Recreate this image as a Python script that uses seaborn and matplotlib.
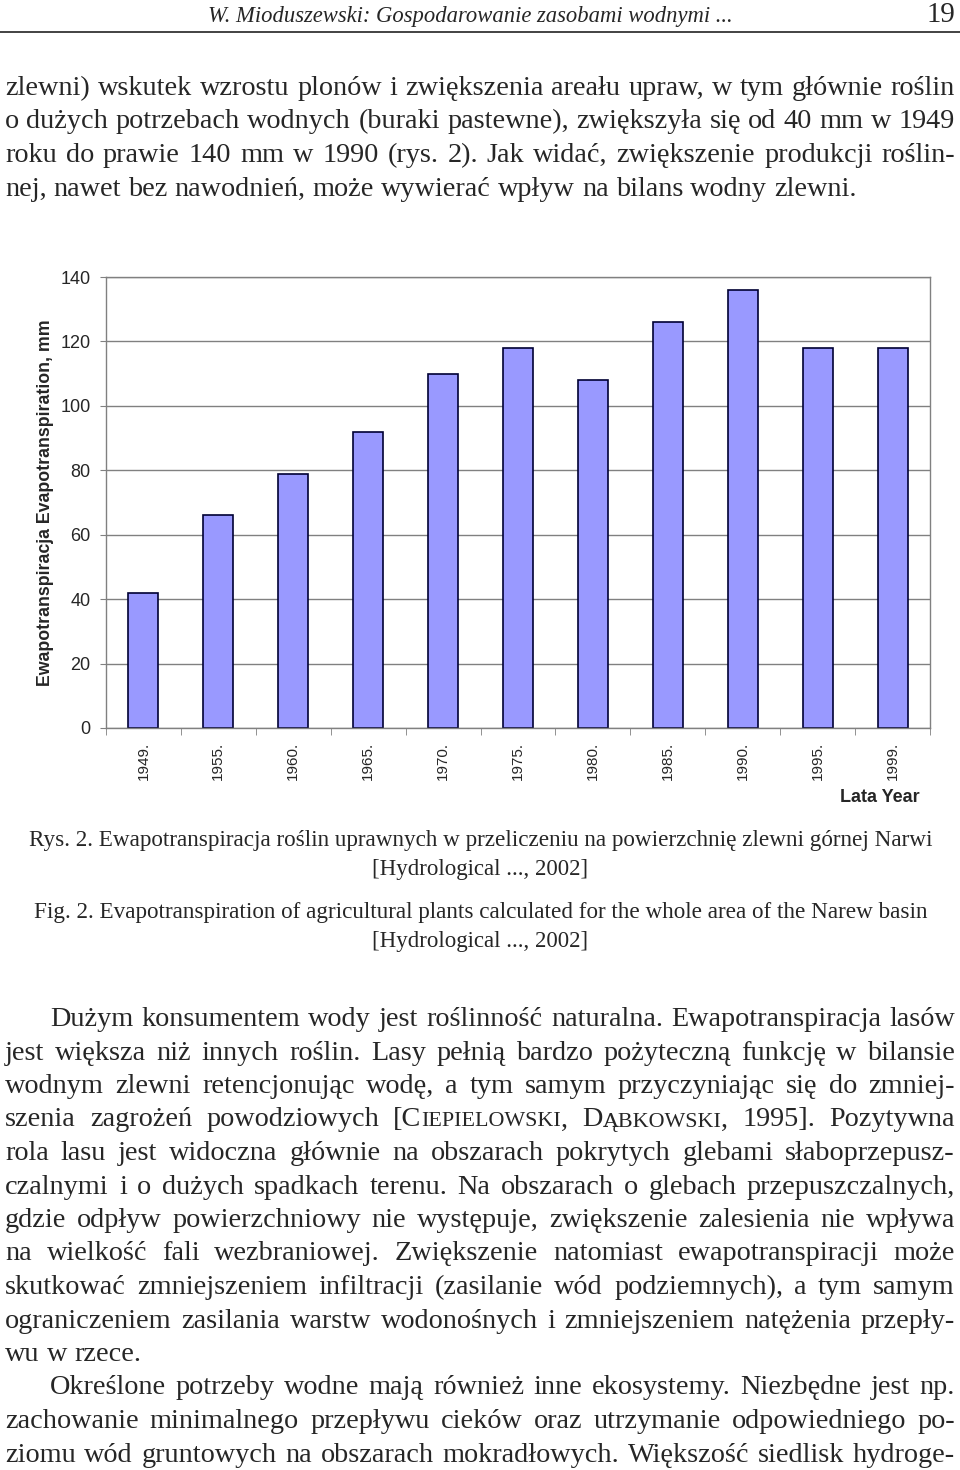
import re
import numpy as np
import pandas as pd
import matplotlib
matplotlib.use('Agg')
import matplotlib.pyplot as plt
import seaborn as sns
from matplotlib.lines import Line2D

# ---- data ----
years = ['1949.', '1955.', '1960.', '1965.', '1970.', '1975.',
         '1980.', '1985.', '1990.', '1995.', '1999.']
evapo = [42, 66, 79, 92, 110, 118, 108, 126, 136, 118, 118]
y_ticks = [0, 20, 40, 60, 80, 100, 120, 140]
y_title = 'Ewapotranspiracja Evapotranspiration, mm'
x_title = 'Lata Year'

header_left = 'W. Mioduszewski: Gospodarowanie zasobami wodnymi ...'
header_page = '19'

para_top = [
    'zlewni) wskutek wzrostu plonów i zwiększenia areału upraw, w tym głównie roślin',
    'o dużych potrzebach wodnych (buraki pastewne), zwiększyła się od 40 mm w 1949',
    'roku do prawie 140 mm w 1990 (rys. 2). Jak widać, zwiększenie produkcji roślin-',
    'nej, nawet bez nawodnień, może wywierać wpływ na bilans wodny zlewni.',
]
caption_pl = ['Rys. 2. Ewapotranspiracja roślin uprawnych w przeliczeniu na powierzchnię zlewni górnej Narwi',
              '[Hydrological ..., 2002]']
caption_en = ['Fig. 2. Evapotranspiration of agricultural plants calculated for the whole area of the Narew basin',
              '[Hydrological ..., 2002]']
# {...} = small caps
para_bottom = [
    'Dużym konsumentem wody jest roślinność naturalna. Ewapotranspiracja lasów',
    'jest większa niż innych roślin. Lasy pełnią bardzo pożyteczną funkcję w bilansie',
    'wodnym zlewni retencjonując wodę, a tym samym przyczyniając się do zmniej-',
    'szenia zagrożeń powodziowych [C{IEPIELOWSKI}, D{ĄBKOWSKI}, 1995]. Pozytywna',
    'rola lasu jest widoczna głównie na obszarach pokrytych glebami słaboprzepusz-',
    'czalnymi i o dużych spadkach terenu. Na obszarach o glebach przepuszczalnych,',
    'gdzie odpływ powierzchniowy nie występuje, zwiększenie zalesienia nie wpływa',
    'na wielkość fali wezbraniowej. Zwiększenie natomiast ewapotranspiracji może',
    'skutkować zmniejszeniem infiltracji (zasilanie wód podziemnych), a tym samym',
    'ograniczeniem zasilania warstw wodonośnych i zmniejszeniem natężenia przepły-',
    'wu w rzece.',
    'Określone potrzeby wodne mają również inne ekosystemy. Niezbędne jest np.',
    'zachowanie minimalnego przepływu cieków oraz utrzymanie odpowiedniego po-',
    'ziomu wód gruntowych na obszarach mokradłowych. Większość siedlisk hydroge-',
]
indent_lines = [0, 11]
ragged_lines = [10]

W, H = 960, 1470
SERIF = ['Liberation Serif', 'DejaVu Serif']

sns.set_style('white')
plt.rcParams['font.family'] = ['Liberation Sans', 'DejaVu Sans']

fig = plt.figure(figsize=(9.6, 14.7), dpi=100)
renderer = fig.canvas.get_renderer()


def fx(px):
    return px / W


def fy(py):
    return 1 - py / H


def width_of(t):
    return t.get_window_extent(renderer).width


def word_parts(word):
    parts = []
    for piece in re.split(r'(\{[^}]*\})', word):
        if not piece:
            continue
        if piece.startswith('{'):
            parts.append((piece[1:-1], 0.78))
        else:
            parts.append((piece, 1.0))
    return parts


def draw_line(y, line, x0, x1, size, justify=True):
    items = []
    for word in line.split(' '):
        parts = []
        for txt, k in word_parts(word):
            t = fig.text(0, fy(y), txt, fontsize=size * k, family=SERIF,
                         va='baseline', ha='left')
            parts.append((t, width_of(t)))
        items.append(parts)
    total = sum(w for parts in items for _, w in parts)
    space = size * 100 / 72 * 0.25
    if justify and len(items) > 1:
        space = (x1 - x0 - total) / (len(items) - 1)
    x = x0
    for parts in items:
        for t, w in parts:
            t.set_x(fx(x))
            x += w
        x += space


def fit_text(x0, x1, y, s, size=16, style='normal', ha='center'):
    xpos = (x0 + x1) / 2 if ha == 'center' else (x1 if ha == 'right' else x0)
    t = fig.text(fx(xpos), fy(y), s, fontsize=size, family=SERIF,
                 style=style, ha=ha, va='baseline')
    t.set_fontsize(size * (x1 - x0) / width_of(t))
    return t


# body font size from the one unjustified line of the top paragraph
probe = fig.text(0, 0, para_top[-1], fontsize=18, family=SERIF)
BODY = 18 * 853 / width_of(probe)
probe.remove()

# ---- header ----
fit_text(208, 733, 22, header_left, style='italic')
fit_text(926, 955, 22, header_page)
fig.add_artist(Line2D([0, 1], [fy(32), fy(32)], color='#222222', lw=1.2))

# ---- text above the chart ----
for i, line in enumerate(para_top):
    draw_line(95 + 33.5 * i, line, 5, 955, BODY, justify=(i < len(para_top) - 1))

# ---- chart ----
ax = fig.add_axes([fx(106), fy(728), 824 / W, 451 / H])
sns.barplot(x=years, y=evapo, ax=ax, color='#9999FF', saturation=1,
            width=0.4, edgecolor='#000033', linewidth=1.2)
ax.set_ylim(0, 140)
ax.set_xlim(-0.5, 10.5)
ax.set_yticks(y_ticks)
ax.yaxis.grid(True, color='#808080', lw=1)
ax.set_axisbelow(True)
for sp in ax.spines.values():
    sp.set_visible(True)
    sp.set_color('#808080')
    sp.set_linewidth(1)
ax.tick_params(axis='y', left=True, length=4, color='#808080', labelsize=13, pad=7)
ax.set_xticks(np.arange(-0.5, 11, 1), minor=True)
ax.tick_params(axis='x', which='major', bottom=False, length=0, labelsize=11,
               labelrotation=90, pad=10)
ax.tick_params(axis='x', which='minor', bottom=True, length=5, color='#808080')
ax.set_ylabel(y_title, fontsize=12.8, fontweight='bold', va='center')
ax.yaxis.set_label_coords((45 - 106) / 824, 0.5)
ax.set_xlabel(x_title, fontsize=13, fontweight='bold', ha='right', va='center')
ax.xaxis.set_label_coords((920 - 106) / 824, (728 - 797) / 451)

# ---- captions ----
fit_text(27, 934, 846, caption_pl[0])
fit_text(372, 588, 875, caption_pl[1])
fit_text(33, 929, 918, caption_en[0])
fit_text(372, 588, 947, caption_en[1])

# ---- text below the chart ----
for i, line in enumerate(para_bottom):
    x0 = 50 if i in indent_lines else 5
    draw_line(1026 + 33.5 * i, line, x0, 955, BODY, justify=(i not in ragged_lines))

fig.savefig('out.png', dpi=100, facecolor='white')
